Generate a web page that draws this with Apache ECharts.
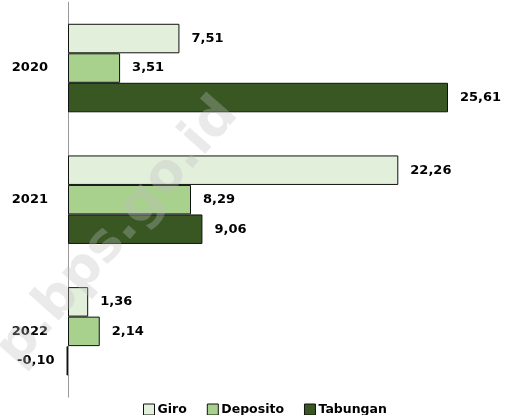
<!DOCTYPE html>
<html>
<head>
<meta charset="utf-8">
<script src="https://cdn.jsdelivr.net/npm/echarts@6/dist/echarts.min.js"></script>
<style>
html,body{margin:0;padding:0;background:#fff;}
#chart{width:507px;height:415px;}
</style>
</head>
<body>
<div id="chart"></div>
<script>
const categories = ['2020', '2021', '2022'];
const seriesNames = ['Giro', 'Deposito', 'Tabungan'];
const giro = [7.51, 22.26, 1.36];
const deposito = [3.51, 8.29, 2.14];
const tabungan = [25.61, 9.06, -0.10];
const colors = ['#e2efda', '#a9d18e', '#385723'];

const fmt = v => v.toFixed(2).replace('.', ',');
const FONT = 'DejaVu Sans';

function makeSeries(name, values, color) {
  return {
    name: name,
    type: 'bar',
    clip: false,
    barWidth: 29.5,
    barGap: '0%',
    itemStyle: { color: color, borderColor: '#111', borderWidth: 1 },
    data: values.map(v => ({
      value: v,
      label: { position: v < 0 ? 'left' : 'right' }
    })),
    label: {
      show: true,
      distance: 12,
      formatter: p => fmt(p.value),
      color: '#000',
      fontFamily: FONT,
      fontWeight: 'bold',
      fontSize: 13
    }
  };
}

const chart = echarts.init(document.getElementById('chart'), null, { renderer: 'canvas' });
chart.setOption({
  animation: false,
  backgroundColor: '#fff',
  grid: { left: 68, right: 53.2, top: 2.2, bottom: 17.8, containLabel: false, outerBoundsMode: 'none' },
  xAxis: {
    type: 'value',
    min: 0,
    max: 26,
    show: false
  },
  yAxis: {
    type: 'category',
    data: categories,
    inverse: true,
    axisLine: { show: true, onZero: false, lineStyle: { color: '#999', width: 1 } },
    axisTick: { show: false },
    axisLabel: {
      margin: 20,
      color: '#000',
      fontFamily: FONT,
      fontWeight: 'bold',
      fontSize: 13
    }
  },
  legend: {
    data: seriesNames,
    left: 138,
    top: 398,
    icon: 'rect',
    itemWidth: 11,
    itemHeight: 11,
    itemGap: 20,
    itemStyle: { borderColor: '#111', borderWidth: 1 },
    textStyle: { color: '#000', fontFamily: FONT, fontWeight: 'bold', fontSize: 12.5, padding: [0, 0, 0, -2] }
  },
  series: [
    makeSeries(seriesNames[0], giro, colors[0]),
    makeSeries(seriesNames[1], deposito, colors[1]),
    makeSeries(seriesNames[2], tabungan, colors[2])
  ],
  graphic: [{
    type: 'text',
    z: 100,
    x: 118,
    y: 232,
    rotation: 0.85,
    style: {
      text: 'p.bps.go.id',
      fontFamily: FONT,
      fontWeight: 'bold',
      fontSize: 53,
      fill: 'rgba(190,190,190,0.32)',
      align: 'center',
      verticalAlign: 'middle'
    }
  }]
});
</script>
</body>
</html>
